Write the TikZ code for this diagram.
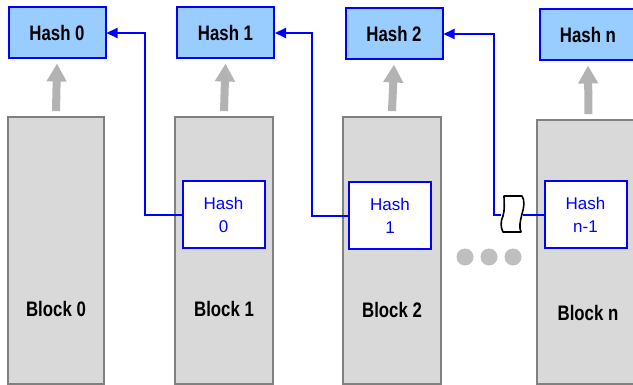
\documentclass[tikz,border=0pt]{standalone}
\usepackage{fontspec}
\setmainfont{Liberation Sans}
\newfontfamily\narrowsf[FakeStretch=0.8]{Liberation Sans}
\usetikzlibrary{arrows.meta}
\definecolor{hashfill}{HTML}{99CCFF}
\definecolor{chainblue}{HTML}{0000FF}
\definecolor{blockfill}{HTML}{D9D9D9}
\definecolor{blockline}{HTML}{808080}
\definecolor{feedgray}{HTML}{B3B3B3}
\definecolor{dotgray}{HTML}{BFBFBF}
\tikzset{
  hashbox/.style={draw=chainblue,fill=hashfill,line width=2pt,minimum width=97pt,minimum height=51pt,inner sep=0pt,font=\narrowsf\fontsize{21}{24}\selectfont\bfseries},
  blockbox/.style={draw=blockline,fill=blockfill,line width=1.8pt,inner sep=0pt},
  blocklabel/.style={font=\narrowsf\fontsize{21}{24}\selectfont\bfseries},
  prevhash/.style={draw=chainblue,fill=white,line width=2pt,minimum width=82pt,minimum height=67pt,inner sep=0pt,align=center,text=chainblue,font=\fontsize{17}{23}\selectfont},
  feed/.style={draw=feedgray,line width=8pt,-{Triangle[length=18pt,width=19pt]}},
  link/.style={draw=chainblue,line width=2pt,-{Triangle[length=11pt,width=10pt]}},
  breakmark/.style={draw=black,fill=white,line width=1.6pt,line join=round}
}
\begin{document}
\begin{tikzpicture}[x=1pt,y=-1pt]
\useasboundingbox (0,0) rectangle (633,385);
% blocks
\node[blockbox,minimum width=96pt,minimum height=267pt] (blk0) at (56,250.5) {};
\node[blockbox,minimum width=98pt,minimum height=267pt] (blk1) at (224,250.5) {};
\node[blockbox,minimum width=98pt,minimum height=267pt] (blk2) at (392,250.5) {};
\node[blockbox,minimum width=103pt,minimum height=264pt] (blkn) at (588.5,252) {};
\node[blocklabel] (lbl0) at (56,309) {Block 0};
\node[blocklabel] (lbl1) at (224,309) {Block 1};
\node[blocklabel] (lbl2) at (392,310) {Block 2};
\node[blocklabel] (lbln) at (588,313) {Block n};
% hashes on top
\node[hashbox] (hash0) at (57,33) {Hash 0};
\node[hashbox] (hash1) at (225.5,33) {Hash 1};
\node[hashbox] (hash2) at (394,34) {Hash 2};
\node[hashbox] (hashn) at (588,35) {Hash n};
\draw[feed] ([yshift=5pt]blk0.north) -- ([yshift=-4pt]hash0.south);
\draw[feed] ([yshift=5pt]blk1.north) -- ([yshift=-4pt]hash1.south);
\draw[feed] ([yshift=5pt]blk2.north) -- ([yshift=-4pt]hash2.south);
\draw[feed] ([yshift=5pt]blkn.north) -- ([yshift=-4pt]hashn.south);
% previous hash inside each block
\node[prevhash] (prev0) at (223.5,215) {Hash\\0};
\node[prevhash] (prev1) at (390,216) {Hash\\1};
\node[prevhash] (prevn) at (585.5,215) {Hash\\n-1};
\draw[link] (prev0.west) -- ++(-37,0) |- (hash0.east);
\draw[link] (prev1.west) -- ++(-36,0) |- (hash1.east);
% broken link and the gap
\node[inner sep=0pt,minimum width=22pt,minimum height=37pt] (brk) at (512,215) {};
\draw[breakmark] (504,196) -- (522,196)
  .. controls (525,200) and (524,208) .. (522,214)
  .. controls (520,221) and (519,228) .. (521,232)
  -- (503,232)
  .. controls (501,228) and (500,222) .. (503,216)
  .. controls (505,210) and (504,202) .. (504,196) -- cycle;
\draw[draw=chainblue,line width=2pt] (prevn.west) -- (brk.east);
\draw[link] (brk.west) -- ++(-7,0) |- (hash2.east);
\foreach \x in {465,489,513}
  \fill[dotgray] (\x,257) circle (8.5);
\end{tikzpicture}
\end{document}
